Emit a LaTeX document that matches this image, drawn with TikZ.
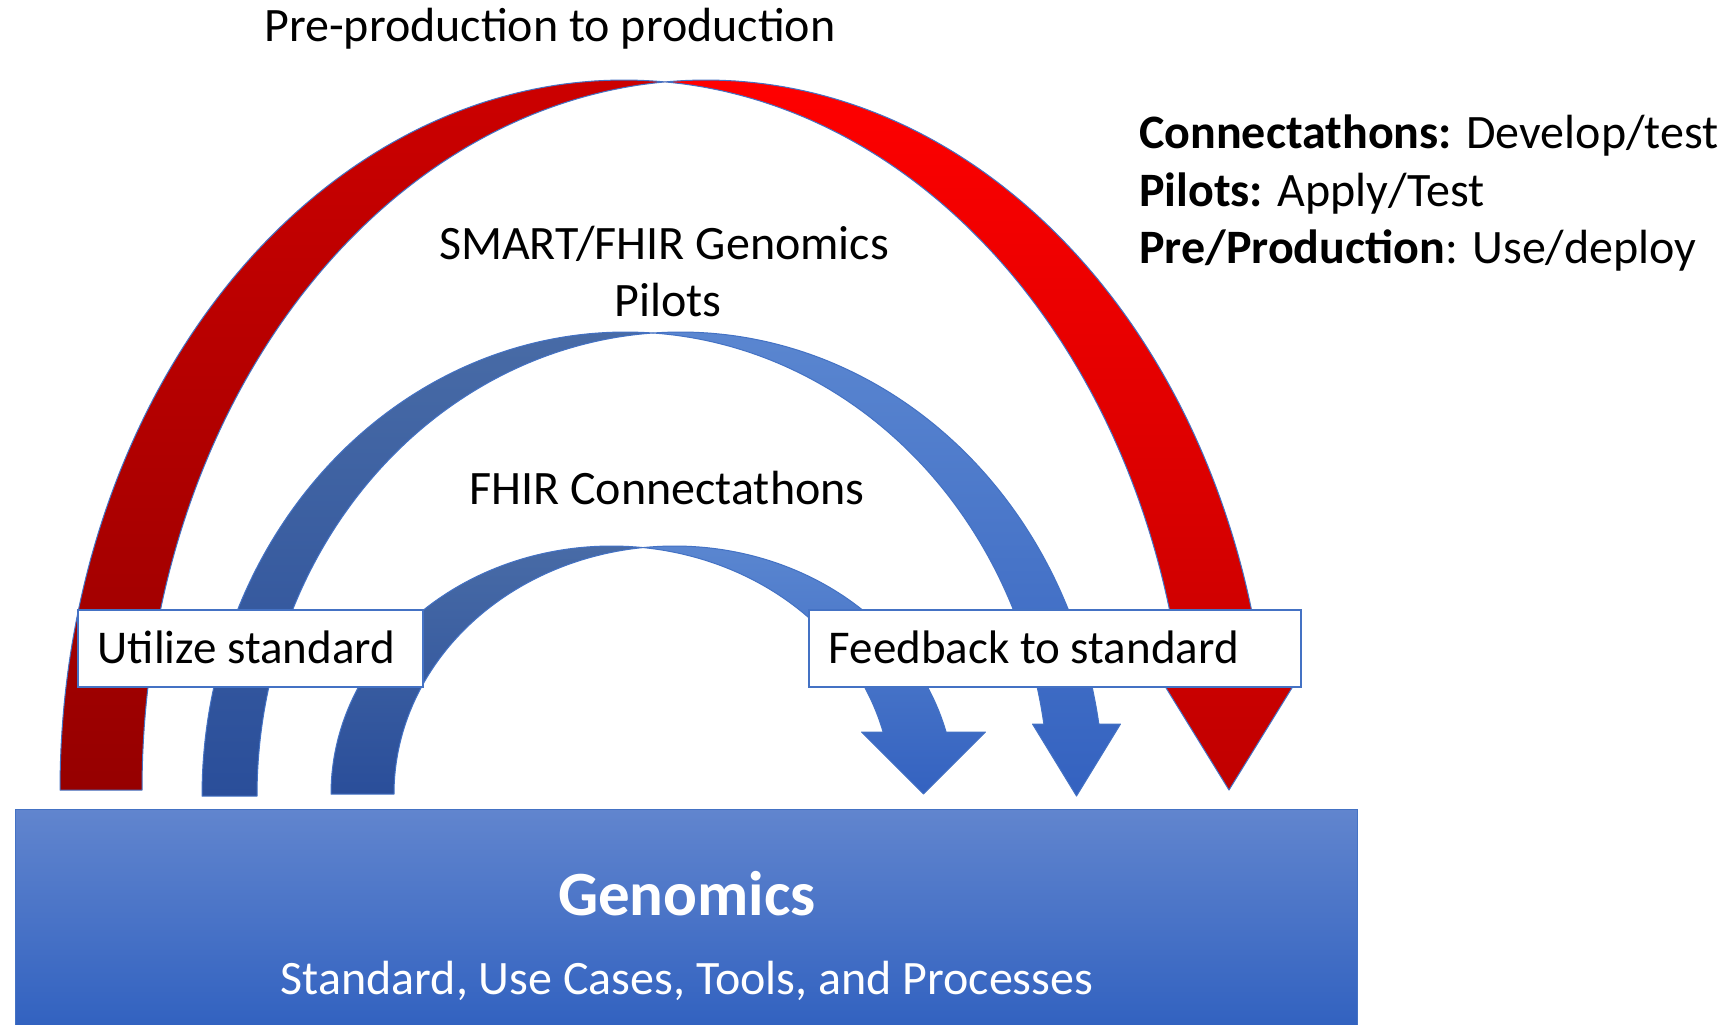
\documentclass[tikz,border=0pt]{standalone}
\usepackage{fontspec}
\setmainfont{Carlito}

\definecolor{edgeblue}{HTML}{4472C4}
\definecolor{redfronttop}{HTML}{FF0000}
\definecolor{redfrontbot}{HTML}{C00000}
\definecolor{redbacktop}{HTML}{CC0000}
\definecolor{redbackbot}{HTML}{960000}
\definecolor{bluefronttop}{HTML}{5A86D0}
\definecolor{bluefrontbot}{HTML}{3462C0}
\definecolor{bluebacktop}{HTML}{486BA6}
\definecolor{bluebackbot}{HTML}{2A4E9A}
\definecolor{gentop}{HTML}{6185CE}
\definecolor{genbot}{HTML}{3262C0}

% Curved down arrow built from two equal ellipses shifted by the band width.
% #1 left ellipse centre x, #2 base line y, #3 x radius, #4 y radius,
% #5 band width, #6 y of the head base, #7 half width of the head,
% #8 style of the rear band, #9 style of the front band
\newcommand\arcarrow[9]{%
  \pgfmathsetmacro\arcTp{acos(#5/(2*#3))}%
  \pgfmathsetmacro\arcTq{180-\arcTp}%
  \pgfmathsetmacro\arcTh{asin((#2-#6)/#4)}%
  \pgfmathsetmacro\arcTip{#1+#3+#5/2}%
  \path[#8]
    plot[domain=180:\arcTp, samples=120, variable=\t]
      ({#1+#3*cos(\t)},{#2-#4*sin(\t)})
    -- plot[domain=\arcTq:180, samples=120, variable=\t]
      ({#1+#5+#3*cos(\t)},{#2-#4*sin(\t)})
    -- cycle;
  \path[#9]
    plot[domain=\arcTq:\arcTh, samples=120, variable=\t]
      ({#1+#5+#3*cos(\t)},{#2-#4*sin(\t)})
    -- ({\arcTip+#7},#6) -- (\arcTip,#2) -- ({\arcTip-#7},#6)
    -- plot[domain=\arcTh:\arcTp, samples=120, variable=\t]
      ({#1+#3*cos(\t)},{#2-#4*sin(\t)})
    -- cycle;
}

\tikzset{
  outline/.style={draw=edgeblue, line width=1bp, line join=round},
  redback/.style={outline, top color=redbacktop, bottom color=redbackbot},
  redfront/.style={outline, top color=redfronttop, bottom color=redfrontbot},
  blueback/.style={outline, top color=bluebacktop, bottom color=bluebackbot},
  bluefront/.style={outline, top color=bluefronttop, bottom color=bluefrontbot},
  txt/.style={font=\fontsize{48bp}{57.5bp}\selectfont, inner sep=0pt},
  labelbox/.style={font=\fontsize{47bp}{56bp}\selectfont,
    draw=edgeblue, line width=1.6bp, fill=white,
    anchor=north west, inner xsep=20bp, inner ysep=21bp,
    text height=33bp, text depth=2bp}
  ,
  genbox/.style={top color=gentop, bottom color=genbot, draw=edgeblue,
    line width=1bp, anchor=north west, inner sep=0pt}
}

\begin{document}
\begin{tikzpicture}[x=1bp, y=-1bp]
\useasboundingbox (0,0) rectangle (1731,1024);
\fill[white] (0,0) rectangle (1731,1024);

% the three curved arrows
\arcarrow{624}{790}{564}{710}{82}{683}{66}{redback}{redfront}
\arcarrow{625.5}{796}{423.5}{464}{55}{724}{44}{blueback}{bluefront}
\arcarrow{611.5}{794}{280.5}{248}{63}{732}{62}{blueback}{bluefront}

% arc captions
\node[txt, anchor=base] (preprod) at (550,41) {Pre-production to production};
\node[txt, anchor=base] (smart) at (664,259) {SMART/FHIR Genomics};
\node[txt, anchor=base] (pilots) at (668,316) {Pilots};
\node[txt, anchor=base] (connect) at (667,504) {FHIR Connectathons};

% legend
\node[txt, anchor=base west] (leg1) at (1139,148) {\textbf{Connectathons:} Develop/test};
\node[txt, anchor=base west] (leg2) at (1139,206) {\textbf{Pilots:} Apply/Test};
\node[txt, anchor=base west] (leg3) at (1139,263) {\textbf{Pre/Production}: Use/deploy};

% label boxes
\node[labelbox] (utilize) at (77,609) {\makebox[305bp][l]{Utilize standard}};
\node[labelbox] (feedback) at (808,609) {\makebox[452bp][l]{Feedback to standard}};

% base block
\node[genbox, minimum width=1342bp, minimum height=216bp] (genomics) at (15,809) {};
\node[txt, anchor=base, text=white, font=\fontsize{63bp}{70bp}\selectfont\bfseries]
  (gentitle) at (687,915) {Genomics};
\node[txt, anchor=base, text=white] (gensub) at (687,994)
  {Standard, Use Cases, Tools, and Processes};
\end{tikzpicture}
\end{document}
